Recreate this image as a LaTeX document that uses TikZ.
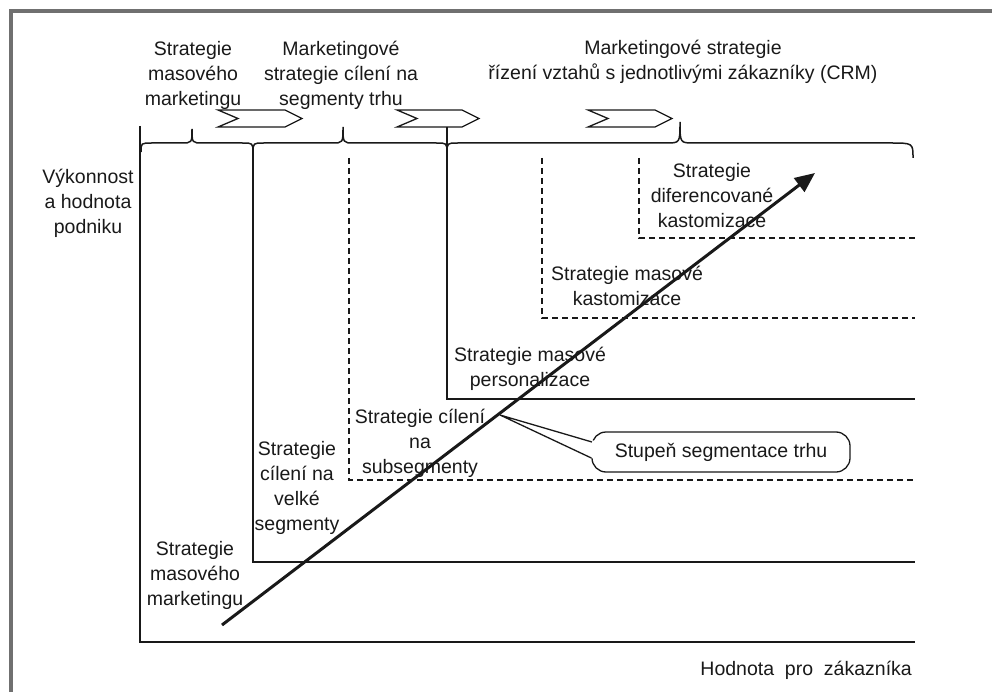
\documentclass[tikz,border=0pt]{standalone}
\usepackage{fontspec}
\setmainfont{Liberation Sans}
\usetikzlibrary{arrows.meta,calc}
\definecolor{framegray}{RGB}{112,112,112}
\definecolor{ink}{RGB}{25,25,25}

\begin{document}
\begin{tikzpicture}[x=1pt,y=-1pt,
  every node/.style={inner sep=0pt, align=center, text=ink,
    font=\fontsize{19.5}{25}\selectfont},
  solidline/.style={line width=1.5pt, draw=ink},
  dashline/.style={line width=1.3pt, draw=ink, dash pattern=on 6pt off 4pt},
  chev/.style={line width=1.3pt, draw=ink, fill=white, line join=miter},
  bracepath/.style={line width=1.5pt, draw=ink},
  trend/.style={line width=3pt, draw=ink, -{Triangle[length=20pt,width=17pt]}},
  calloutbox/.style={draw=ink, line width=1.3pt, rounded corners=14pt,
    minimum width=258pt, minimum height=40pt, fill=white},
  framelines/.style={line width=3.5pt, draw=framegray}
]
\useasboundingbox (0,0) rectangle (992,692);

% outer frame (top and left edges)
\draw[framelines] (11,692) -- (11,11) -- (992,11);

% axes
\draw[solidline] (140,126) -- (140,642) -- (915,642);

% strategy regions, nested from bottom-left to top-right
\draw[solidline] (253,152) -- (253,562) -- (915,562);
\draw[dashline]  (349,158) -- (349,480) -- (915,480);
\draw[solidline] (447,127) -- (447,399) -- (915,399);
\draw[dashline]  (542,158) -- (542,318) -- (915,318);
\draw[dashline]  (639,158) -- (639,238) -- (915,238);

% braces grouping the strategy families
\draw[bracepath] (141,152) .. controls (141,143) .. (152,143) -- (181,143)
  .. controls (192,143) .. (192,129) .. controls (192,143) .. (203,143)
  -- (242,143) .. controls (253,143) .. (253,153);
\draw[bracepath] (253,153) .. controls (253,143) .. (264,143) -- (332,143)
  .. controls (343,143) .. (343,127) .. controls (343,143) .. (354,143)
  -- (436,143) .. controls (447,143) .. (447,153);
\draw[bracepath] (447,153) .. controls (447,143) .. (458,143) -- (666,143)
  .. controls (680,143) .. (680,122) .. controls (680,143) .. (694,143)
  -- (890,143) .. controls (913,143) .. (913,158);

% chevrons showing the progression between families
\draw[chev] (218,110) -- (285,110) -- (302,118.5) -- (285,127) -- (218,127) -- (238,118.5) -- cycle;
\draw[chev] (397,110) -- (462,110) -- (479,118.5) -- (462,127) -- (397,127) -- (417,118.5) -- cycle;
\draw[chev] (588,110) -- (655,110) -- (672,118.5) -- (655,127) -- (588,127) -- (608,118.5) -- cycle;
\draw[solidline] (447,127) -- (447,153);

% headings
\node (h1) at (193,75) {Strategie\\masového\\marketingu};
\node (h2) at (341,75) {Marketingové\\strategie cílení na\\segmenty trhu};
\node (h3) at (683,62) {Marketingové strategie\\řízení vztahů s jednotlivými zákazníky (CRM)};

% axis labels
\node (ylab) at (88,203) {Výkonnost\\a hodnota\\podniku};
\node[anchor=east] (xlab) at (912,670) {Hodnota\ \ pro\ \ zákazníka};

% region labels
\node (s1) at (195,575) {Strategie\\masového\\marketingu};
\node (s2) at (297,488) {Strategie\\cílení na\\velké\\segmenty};
\node (s3) at (420,443) {Strategie cílení\\na\\subsegmenty};
\node (s4) at (530,369) {Strategie masové\\personalizace};
\node (s5) at (627,286) {Strategie masové\\kastomizace};
\node (s6) at (712,196) {Strategie\\diferencované\\kastomizace};

% callout
\node[calloutbox] (seg) at (721,452) {Stupeň segmentace trhu};
\coordinate (ptr) at (500,415);
\coordinate (pa) at ($(seg.west)+(0.6,-10)$);
\coordinate (pb) at ($(seg.west)+(0,6)$);
\fill[white] (ptr) -- ($(pa)+(3,-1)$) -- ($(pb)+(3,1)$) -- cycle;
\draw[line width=1.3pt, draw=ink] (pa) -- (ptr) -- (pb);

% trend arrow
\coordinate (tstart) at (222,625);
\coordinate (tend) at (815,173);
\draw[trend] (tstart) -- (tend);
\end{tikzpicture}
\end{document}
